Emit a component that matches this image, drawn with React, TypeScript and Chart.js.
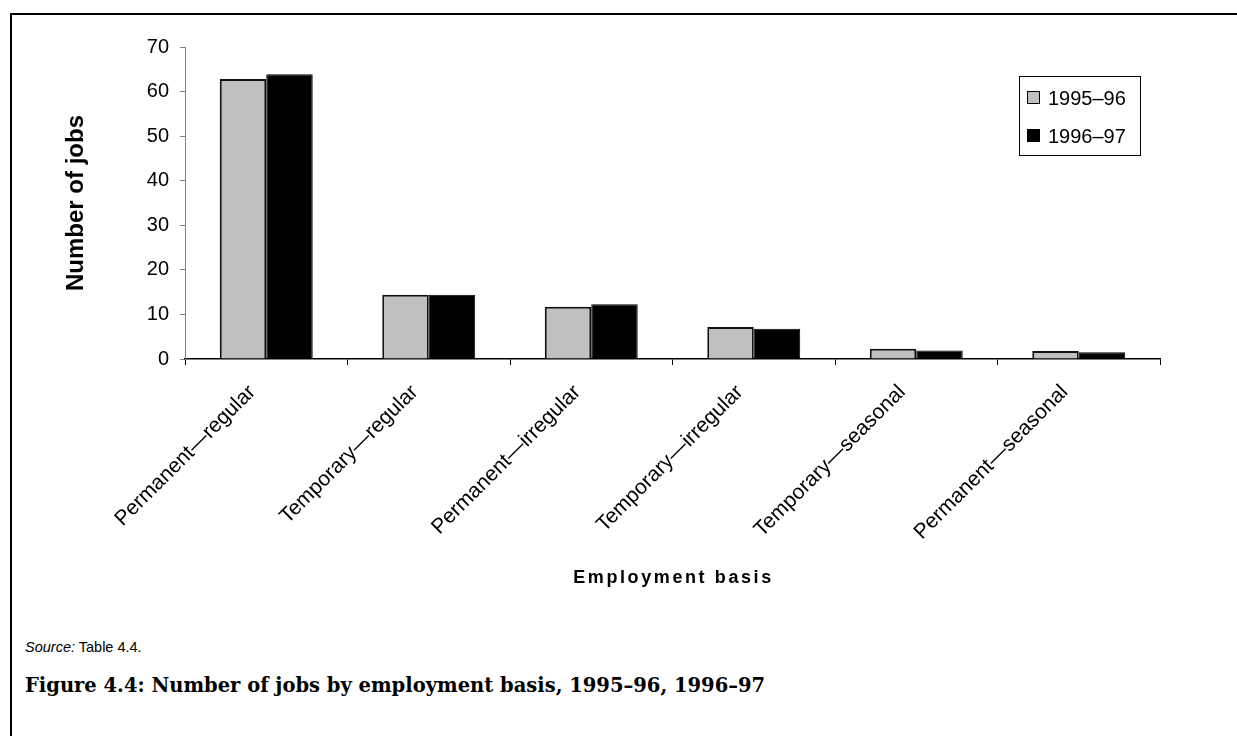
import React, { useEffect, useRef } from "react";
import { Chart, registerables } from "chart.js";

Chart.register(...registerables);

const categories = [
  "Permanent—regular",
  "Temporary—regular",
  "Permanent—irregular",
  "Temporary—irregular",
  "Temporary—seasonal",
  "Permanent—seasonal",
];
const series1Label = "1995–96";
const series2Label = "1996–97";
const series1995 = [62.8, 14.4, 11.7, 7.2, 2.3, 1.8];
const series1996 = [63.9, 14.4, 12.3, 6.8, 1.9, 1.5];
const yTicks = [0, 10, 20, 30, 40, 50, 60, 70];

const SANS = "'Liberation Sans', Arial, sans-serif";

const legendPlugin = {
  id: "boxLegend",
  afterDraw(chart: any) {
    const ctx = chart.ctx;
    const x = 1019;
    const y = 76;
    const w = 121;
    const h = 79;
    ctx.save();
    ctx.strokeStyle = "#000";
    ctx.lineWidth = 1;
    ctx.strokeRect(x + 0.5, y + 0.5, w, h);
    const items = chart.data.datasets.map((d: any) => ({ label: d.label, color: d.backgroundColor }));
    ctx.font = `20px ${SANS}`;
    ctx.textBaseline = "middle";
    ctx.fillStyle = "#000";
    items.forEach((it: any, i: number) => {
      const cy = y + 22 + i * 38;
      ctx.fillStyle = it.color;
      ctx.fillRect(x + 8, cy - 7, 13, 13);
      ctx.strokeStyle = "#000";
      ctx.lineWidth = 1;
      ctx.strokeRect(x + 8.5, cy - 6.5, 12, 12);
      ctx.fillStyle = "#000";
      ctx.fillText(it.label, x + 29, cy + 1);
    });
    // x-axis title
    ctx.font = `bold 18px ${SANS}`;
    ctx.textAlign = "center";
    (ctx as any).letterSpacing = "2.6px";
    const area = chart.chartArea;
    ctx.fillText("Employment basis", (area.left + area.right) / 2 + 1, 578);
    (ctx as any).letterSpacing = "0px";
    ctx.restore();
  },
};

function BarChart() {
  const ref = useRef<HTMLCanvasElement>(null);
  useEffect(() => {
    if (!ref.current) return;
    const chart = new Chart(ref.current, {
      type: "bar",
      data: {
        labels: categories,
        datasets: [
          {
            label: series1Label,
            data: series1995,
            backgroundColor: "#c0c0c0",
            borderColor: "#111",
            borderWidth: 2,
            categoryPercentage: 0.572,
            barPercentage: 1,
          },
          {
            label: series2Label,
            data: series1996,
            backgroundColor: "#000",
            borderColor: "#000",
            borderWidth: 1,
            categoryPercentage: 0.572,
            barPercentage: 1,
          },
        ],
      },
      options: {
        animation: false,
        responsive: false,
        maintainAspectRatio: false,
        layout: { padding: { top: 47, right: 77, left: 0, bottom: 0 } },
        plugins: {
          legend: { display: false },
          tooltip: { enabled: false },
          title: { display: false },
        },
        scales: {
          x: {
            afterFit(scale: any) {
              scale.height = 241;
            },
            grid: {
              display: true,
              drawOnChartArea: false,
              offset: true,
              tickLength: 6,
              color: "#000",
            },
            border: { color: "#000", width: 1.5 },
            ticks: {
              minRotation: 45,
              maxRotation: 45,
              autoSkip: false,
              color: "#000",
              font: { family: SANS, size: 21 },
              labelOffset: -14,
              padding: 15,
            },
          },
          y: {
            min: 0,
            max: 70,
            afterFit(scale: any) {
              scale.width = 185;
            },
            afterBuildTicks(scale: any) {
              scale.ticks = yTicks.map((v) => ({ value: v }));
            },
            grid: {
              display: true,
              drawOnChartArea: false,
              tickLength: 5,
              color: "#808080",
            },
            border: { color: "#808080", width: 1 },
            ticks: {
              color: "#000",
              font: { family: SANS, size: 20 },
              padding: 11,
            },
            title: {
              display: true,
              text: "Number of jobs",
              color: "#000",
              font: { family: SANS, size: 24, weight: "bold" },
              padding: { top: 62, bottom: 0 },
            },
          },
        },
      },
      plugins: [legendPlugin],
    });
    return () => chart.destroy();
  }, []);
  return (
    <canvas
      ref={ref}
      width={1237}
      height={600}
      style={{ position: "absolute", left: 0, top: 0, width: 1237, height: 600 }}
    />
  );
}

export default function App() {
  return (
    <div
      style={{
        position: "fixed",
        left: 0,
        top: 0,
        width: 1237,
        height: 736,
        background: "#fff",
        overflow: "hidden",
      }}
    >
      <div
        style={{
          position: "absolute",
          left: 10,
          top: 13,
          width: 1400,
          height: 900,
          borderLeft: "2.5px solid #000",
          borderTop: "2.5px solid #000",
        }}
      />
      <BarChart />
      <div
        style={{
          position: "absolute",
          left: 25,
          top: 639,
          fontFamily: SANS,
          fontSize: 14.5,
          color: "#000",
          whiteSpace: "nowrap",
        }}
      >
        <i>Source:</i> Table 4.4.
      </div>
      <div
        style={{
          position: "absolute",
          left: 25,
          top: 674,
          fontFamily: "'DejaVu Serif', 'Liberation Serif', serif",
          fontWeight: "bold",
          fontSize: 19.5,
          color: "#000",
          whiteSpace: "nowrap",
        }}
      >
        Figure 4.4: Number of jobs by employment basis, 1995–96, 1996–97
      </div>
    </div>
  );
}
